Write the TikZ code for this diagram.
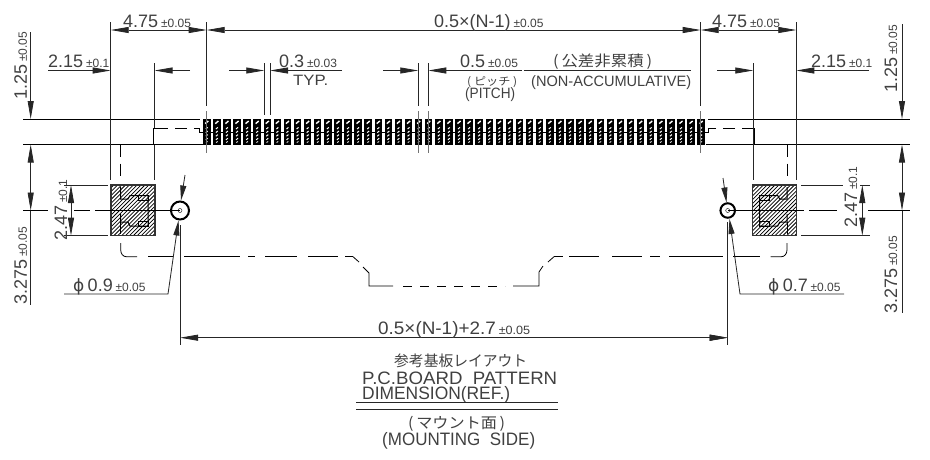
\documentclass[tikz,border=0pt]{standalone}
\usepackage{fontspec}
\setmainfont{Liberation Sans}
\newfontfamily\cjk{Noto Sans CJK JP}
\newfontfamily\dejavu{DejaVu Sans}
\usetikzlibrary{arrows.meta}

% text sizes of the drawing
\newcommand{\numt}[1]{{\fontsize{18}{18}\selectfont #1}}
\newcommand{\tolt}[1]{{\fontsize{12}{12}\selectfont #1}}
\newcommand{\midt}[1]{{\fontsize{15}{15}\selectfont #1}}
\newcommand{\jpt}[1]{{\fontsize{15}{15}\selectfont\cjk #1}}
\newcommand{\kant}[1]{{\fontsize{11}{11}\selectfont\cjk #1}}
\newcommand{\phit}{{\fontsize{17}{17}\selectfont\dejavu ϕ}}
% text pressed to the width it has in the drawing
\newcommand{\wdt}[2]{\resizebox{#1pt}{\height}{#2}}

\tikzset{
    lbl/.style={inner sep=0pt,anchor=base west,text=black!75},
    rlbl/.style={lbl,rotate=90},
    dimline/.style={line width=0.8pt,black!85},
    tip/.style={dimline,-{Triangle[length=18pt,width=6pt]}},
    shorttip/.style={dimline,-{Triangle[length=15pt,width=6pt]}},
    dashline/.style={line width=0.8pt,dash pattern=on 12pt off 7pt},
    chain/.style={line width=0.8pt},
    hole/.style={circle,draw,line width=2pt,inner sep=0pt}
}

\begin{document}
\begin{tikzpicture}[x=1pt,y=-1pt]

    \useasboundingbox (0,0) rectangle (930,459);

    % Heights used by the dimension lines
    \def\ytop{30}
    \def\ymid{70.5}
    \def\ycen{210.5}
    \def\pitch{10.09}

    % Holes on the centre line
    \node[hole,minimum size=18pt] (holeL) at (180,\ycen) {};
    \node[hole,minimum size=14.5pt] (holeR) at (727.7,\ycen) {};
    \node[circle,draw,inner sep=0pt,minimum size=4pt] (holeLc) at (holeL.center) {};
    \node[circle,draw,inner sep=0pt,minimum size=4pt] (holeRc) at (holeR.center) {};

    % Contact pins of the comb
    \draw[line width=0.9pt] (200,132.5) -- (708,132.5);
    \foreach \i in {0,...,49} {
        \fill (203+\i*\pitch,119) rectangle (210.5+\i*\pitch,145);
        \draw[white,line width=1.4pt] (205.2+\i*\pitch,123.6) -- (208.3+\i*\pitch,121);
        \foreach \k in {0,1,2,3} {
            \draw[white,line width=1pt] (205.8+\i*\pitch,129+\k*3.6) -- (207.7+\i*\pitch,127.4+\k*3.6);
        }
        \draw[white,line width=0.8pt] (206+\i*\pitch,142.5) -- (207.6+\i*\pitch,141.5);
    }

    % Outline of the board lines left and right of the comb
    \draw[chain] (23,119) -- (200,119);
    \draw[chain] (23,144.5) -- (203,144.5);
    \draw[chain] (708,119) -- (910,119);
    \draw[chain] (706,144.5) -- (910,144.5);
    \draw[chain] (203,132.5) -- (199,132.5) -- (199,128);
    \draw[dashline] (156,128) -- (199,128);
    \draw[chain] (153.7,128) -- (156,128);
    \draw[chain] (153.7,128) -- (153.7,144.5);
    \draw[chain] (705,132.5) -- (708,132.5) -- (708,128);
    \draw[dashline] (754,128) -- (708,128);
    \draw[chain] (754,128) -- (754,144.5);

    % Hatching of the two lands
    \foreach \mx in {111,752.7} {
        \begin{scope}
            \clip (\mx,185) rectangle (\mx+44,235.7);
            \foreach \h in {0,...,29} {
                \draw[line width=0.75pt] (\mx-60+\h*3.9,240) -- (\mx+\h*3.9,180);
            }
        \end{scope}
    }

    % Inner outline of the lands (the right one is the mirror image of the left one)
    \foreach \mx/\sx in {0/1,907.7/-1} {
        \begin{scope}[xshift=\mx pt,xscale=\sx]
            \draw[line width=1.4pt,black!80] (111,185) rectangle (155,235.7);
            \draw[line width=1pt] (120.7,187) -- (120.7,199) -- (128,199) -- (130,195.5) -- (148,195.5) -- (148,226) -- (130,226) -- (128,222) -- (120.7,222) -- (120.7,214);
            \draw[line width=1pt] (138,195.5) rectangle (148,200);
            \draw[line width=1pt] (138,221.5) rectangle (148,226);
            \draw[line width=1pt] (120.7,222) -- (120.7,234);
            \draw[dashline] (120.7,144.5) -- (120.7,180);
            \draw[chain] (120.7,243) -- (120.7,250) arc[start angle=180,end angle=90,x radius=5.5pt,y radius=-6.7pt] -- (137,256.7);
        \end{scope}
    }

    % Centre chain line of the connector outline
    \foreach \a/\b in {148/173,184/240,248/255,265/297,308/338,345/353,554/563,569/599,612/642,650/660,669/723,733/760} {
        \draw[chain] (\a,256.7) -- (\b,256.7);
    }
    \draw[chain] (353,256.7) -- (359,262);
    \draw[chain] (363,267) -- (369,273) -- (369,286) -- (393,286);
    \draw[chain,dash pattern=on 9pt off 8pt] (403,286) -- (505,286);
    \draw[chain] (513,286) -- (539,286) -- (539,272) -- (543,266);
    \draw[chain] (548,262) -- (554,256.7);

    % Centre line of the holes and lands
    \draw[chain] (23,\ycen) -- (48,\ycen);
    \draw[chain] (74,\ycen) -- (90,\ycen);
    \draw[chain] (95,\ycen) -- (holeL.center);
    \draw[chain] (holeR.center) -- (804,\ycen);
    \draw[chain] (809,\ycen) -- (836.7,\ycen);
    \draw[chain] (868,\ycen) -- (910,\ycen);

    % Extension lines
    \draw[dimline] (110.7,22) -- (110.7,180);
    \draw[dimline] (154.5,63) -- (154.5,128);
    \draw[dimline] (154.5,144.5) -- (154.5,180);
    \draw[dimline] (796.3,22) -- (796.3,180);
    \draw[dimline] (753.3,63) -- (753.3,180);
    \foreach \xx in {206.7,700.7} {
        \draw[dimline] (\xx,22) -- (\xx,106);
        \draw[black!55,line width=1pt] (\xx,111) -- (\xx,152.7);
    }
    \foreach \xx in {418.3,428.3} {
        \draw[dimline] (\xx,63) -- (\xx,106);
        \draw[black!55,line width=1pt] (\xx,111) -- (\xx,152.7);
    }
    \foreach \xx in {264.3,270} {
        \draw[dimline] (\xx,63) -- (\xx,115);
    }
    \draw[dimline] (64,185) -- (108,185);
    \draw[dimline] (64,235.7) -- (108,235.7);
    \draw[dimline] (801,185) -- (843,185);
    \draw[dimline] (860,185) -- (870,185);
    \draw[dimline] (801,235.7) -- (870,235.7);

    % Top row of dimensions
    \draw[tip] (130,\ytop) -- (110.7,\ytop);
    \draw[tip] (130,\ytop) -- (206.7,\ytop);
    \draw[tip] (225,\ytop) -- (206.7,\ytop);
    \draw[tip] (225,\ytop) -- (700.7,\ytop);
    \draw[tip] (719,\ytop) -- (700.7,\ytop);
    \draw[tip] (719,\ytop) -- (796.3,\ytop);

    % Second row of dimensions
    \draw[tip] (48,\ymid) -- (110.7,\ymid);
    \draw[tip] (190,\ymid) -- (154.5,\ymid);
    \draw[tip] (229,\ymid) -- (264.3,\ymid);
    \draw[tip] (342,\ymid) -- (270,\ymid);
    \draw[tip] (383,\ymid) -- (418.3,\ymid);
    \draw[tip] (522,\ymid) -- (428.3,\ymid);
    \draw[dimline] (523.5,\ymid) -- (690.7,\ymid);
    \draw[tip] (717,\ymid) -- (753.3,\ymid);
    \draw[tip] (869,\ymid) -- (796.3,\ymid);

    % Vertical dimensions at the left and right edge
    \draw[tip] (30.7,32) -- (30.7,119);
    \draw[tip] (30.7,163) -- (30.7,144.5);
    \draw[tip] (30.7,163) -- (30.7,\ycen);
    \draw[dimline] (30.7,\ycen) -- (30.7,305);
    \draw[tip] (902,24) -- (902,119);
    \draw[tip] (902,163) -- (902,144.5);
    \draw[tip] (902,163) -- (902,\ycen);
    \draw[dimline] (902,\ycen) -- (902,313.3);

    % Land height
    \draw[tip] (71,203) -- (71,185);
    \draw[tip] (71,203) -- (71,235.7);
    \draw[tip] (862.3,203) -- (862.3,185);
    \draw[tip] (862.3,203) -- (862.3,235.7);

    % Leaders of the two holes
    \draw[shorttip] (185,175) -- (181,200.5);
    \draw[shorttip] (64,294) -- (168,294) -- (178.5,220.5);
    \draw[shorttip] (723,178) -- (726.5,202.5);
    \draw[shorttip] (844,294) -- (740,294) -- (729.5,219);

    % Distance between the holes
    \draw[dimline] (180,225) -- (180,345);
    \draw[dimline] (727.7,222) -- (727.7,345);
    \draw[tip] (198,337.7) -- (180,337.7);
    \draw[tip] (198,337.7) -- (727.7,337.7);
    \draw[tip] (709,337.7) -- (727.7,337.7);

    % Texts of the upper dimensions
    \node[lbl] (tA) at (123,27) {\numt{4.75} \tolt{±0.05}};
    \node[lbl] (tB) at (712,27) {\numt{4.75} \tolt{±0.05}};
    \node[lbl] (tC) at (434,27) {\numt{0.5×(N-1)} \tolt{±0.05}};
    \node[lbl] (tD) at (48,67) {\numt{2.15} \tolt{±0.1}};
    \node[lbl] (tE) at (811,67) {\numt{2.15} \tolt{±0.1}};
    \node[lbl] (tF) at (279,67) {\numt{0.3} \tolt{±0.03}};
    \node[lbl] (tG) at (293,85) {\wdt{35}{\midt{TYP.}}};
    \node[lbl] (tH) at (460,67) {\numt{0.5} \tolt{±0.05}};
    \node[lbl] (tI) at (553,66) {\wdt{99}{\jpt{(\,公差非累積\,)}}};
    \node[lbl] (tJ) at (467,85) {\wdt{50}{\kant{(\ ピッチ\ )}}};
    \node[lbl] (tK) at (465,98) {\wdt{50}{\midt{(PITCH)}}};
    \node[lbl] (tL) at (531,86) {\wdt{160}{\midt{(NON-ACCUMULATIVE)}}};

    % Rotated texts
    \node[rlbl] (tM) at (27,100) {\numt{1.25} \tolt{±0.05}};
    \node[rlbl] (tN) at (27,305) {\numt{3.275} \tolt{±0.05}};
    \node[rlbl] (tO) at (67,241) {\numt{2.47} \tolt{±0.1}};
    \node[rlbl] (tP) at (897,93) {\numt{1.25} \tolt{±0.05}};
    \node[rlbl] (tQ) at (897,314) {\numt{3.275} \tolt{±0.05}};
    \node[rlbl] (tR) at (857,228) {\numt{2.47} \tolt{±0.1}};

    % Texts of the holes
    \node[lbl] (tS) at (73,291) {\phit\,\,\numt{0.9} \tolt{±0.05}};
    \node[lbl] (tT) at (768,291) {\phit\,\,\numt{0.7} \tolt{±0.05}};
    \node[lbl] (tU) at (378,334) {\wdt{152}{\numt{0.5×(N-1)+2.7} \tolt{±0.05}}};

    % Title block
    \node[lbl] (tV) at (394,366) {\wdt{133}{\jpt{参考基板レイアウト}}};
    \node[lbl] (tW) at (362,384) {\wdt{195}{\numt{P.C.BOARD\ \ PATTERN}}};
    \node[lbl] (tX) at (362,399) {\wdt{148}{\numt{DIMENSION(REF.)}}};
    \draw[dimline] (356,402.3) -- (558,402.3);
    \draw[dimline] (356,409) -- (558,409);
    \node[lbl] (tY) at (408,428) {\wdt{97}{\jpt{(\,マウント面\,)}}};
    \node[lbl] (tZ) at (382,445) {\wdt{153}{\numt{(MOUNTING\ \ SIDE)}}};

\end{tikzpicture}
\end{document}
